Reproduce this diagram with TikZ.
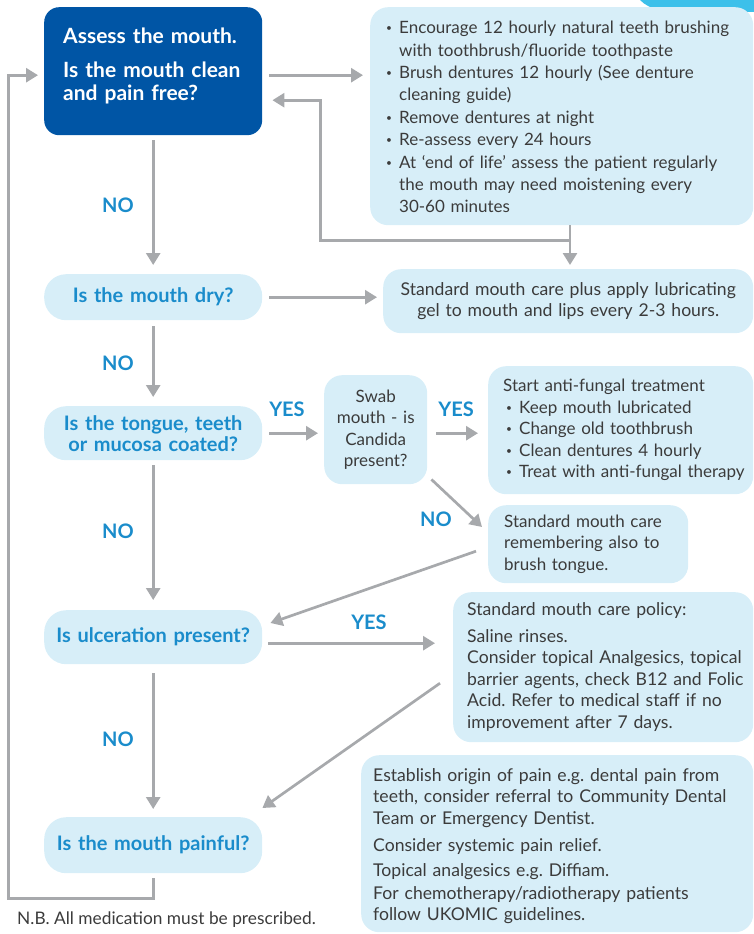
\documentclass[tikz,border=0pt]{standalone}
\usepackage{fontspec}
\setmainfont{Lato}
\usetikzlibrary{arrows.meta,calc}
\definecolor{dblue}{HTML}{0055A5}
\definecolor{lblue}{HTML}{D7EEF8}
\definecolor{qblue}{HTML}{1A8CCB}
\definecolor{agray}{HTML}{A7A9AC}
\definecolor{tgray}{HTML}{3B3B3B}
\definecolor{cyanc}{HTML}{3CC0EA}
\frenchspacing
\newcommand{\bl}[1]{\par\hangindent=16pt\hangafter=1\noindent\makebox[16pt][l]{\hspace{3pt}\raisebox{.12em}{\scalebox{.6}{\textbullet}}}#1}
\begin{document}
\begin{tikzpicture}[x=1pt,y=-1pt,
  box/.style={fill=lblue, rounded corners=18pt, inner ysep=0pt, anchor=north west},
  info/.style={box, text=tgray, font=\fontsize{17}{21.5}\selectfont, align=left},
  wide/.style={font=\fontsize{17.6}{21.5}\selectfont},
  ques/.style={box, rounded corners=22pt, text=qblue, font=\bfseries\fontsize{20}{21}\selectfont, align=center, inner xsep=0pt, text width=218pt},
  lab/.style={text=qblue, font=\bfseries\fontsize{20}{21}\selectfont, inner sep=0pt},
  arr/.style={draw=agray, line width=2.7pt, -{Triangle[length=12pt,width=14pt]}},
  ]
\useasboundingbox (0,0) rectangle (754,934);
\fill[cyanc] (640,0) .. controls (650,10) and (662,12) .. (700,12) -- (754,12) -- (754,0) -- cycle;

% nodes
\node[box, fill=dblue, rounded corners=15pt, text=white, font=\bfseries\fontsize{21}{23}\selectfont, align=left, inner xsep=19pt, text width=180pt, minimum height=128pt] (assess) at (44,7)
  {\mbox{Assess the mouth.}\\[11pt]\mbox{Is the mouth clean}\\\mbox{and pain free?}\rule[-14pt]{0pt}{14pt}};
\node[info, inner xsep=13pt, text width=357pt, minimum height=218pt, font=\fontsize{17}{22.4}\selectfont] (care) at (370,7)
  {\bl{\mbox{Encourage 12 hourly natural teeth brushing}\newline\mbox{with toothbrush/fluoride toothpaste}}
   \bl{\mbox{Brush dentures 12 hourly (See denture}\newline cleaning guide)}
   \bl{Remove dentures at night}
   \bl{Re-assess every 24 hours}
   \bl{\mbox{At ‘end of life’ assess the patient regularly}\newline\mbox{the mouth may need moistening every}\newline 30-60 minutes\rule[-8pt]{0pt}{8pt}}\par};
\node[ques, minimum height=46pt] (dry) at (44,274) {Is the mouth dry?};
\node[info, wide, align=center, inner xsep=4pt, text width=362pt, minimum height=64pt] (drycare) at (383,269)
  {\mbox{Standard mouth care plus apply lubricating}\\gel to mouth and lips every 2-3 hours.};
\node[ques, minimum height=54pt] (coated) at (44,406) {Is the tongue, teeth\\or mucosa coated?};
\node[info, align=center, inner xsep=2pt, text width=99pt, minimum height=109pt] (swab) at (324,375)
  {Swab\\mouth - is\\Candida\\present?};
\node[info, inner xsep=15pt, text width=235pt, minimum height=128pt] (fungal) at (488,366)
  {\noindent\mbox{Start anti-fungal treatment}
   \bl{Keep mouth lubricated}
   \bl{Change old toothbrush}
   \bl{Clean dentures 4 hourly}
   \bl{\mbox{Treat with anti-fungal therapy}}\par};
\node[info, inner xsep=16pt, text width=168pt, minimum height=78pt] (tongue) at (488,505)
  {\mbox{Standard mouth care}\\\mbox{remembering also to}\\brush tongue.};
\node[ques, minimum height=54pt] (ulcer) at (44,610) {Is ulceration present?};
\node[info, wide, inner xsep=14pt, text width=272pt, minimum height=150pt] (policy) at (453,592)
  {\mbox{Standard mouth care policy:}\\[5pt]
   Saline rinses.\\
   \mbox{Consider topical Analgesics, topical}\\
   \mbox{barrier agents, check B12 and Folic}\\
   \mbox{Acid. Refer to medical staff if no}\\
   \mbox{improvement after 7 days.}};
\node[ques, minimum height=56pt] (painful) at (44,817) {Is the mouth painful?};
\node[info, wide, inner xsep=12pt, text width=368pt, minimum height=177pt] (pain) at (361,755)
  {\rule{0pt}{18pt}\mbox{Establish origin of pain e.g. dental pain from}\\
   \mbox{teeth, consider referral to Community Dental}\\
   Team or Emergency Dentist.\\[5.5pt]
   Consider systemic pain relief.\\[3.5pt]
   Topical analgesics e.g. Diffiam.\\[1.5pt]
   \mbox{For chemotherapy/radiotherapy patients}\\
   follow UKOMIC guidelines.};

% labels
\node[lab] (no1) at (118,205) {NO};
\node[lab] (no2) at (118,363) {NO};
\node[lab] (no3) at (118,531) {NO};
\node[lab] (no4) at (118,739) {NO};
\node[lab] (no5) at (436,519) {NO};
\node[lab] (yes1) at (287,409) {YES};
\node[lab] (yes2) at (456,409) {YES};
\node[lab] (yes3) at (369,622) {YES};
\node[anchor=west, text=tgray, font=\fontsize{17.3}{19}\selectfont, inner sep=0pt] (nb) at (17,920) {N.B. All medication must be prescribed.};

% connectors
\coordinate (a1s) at ([shift={(7,4)}]assess.east);
\draw[arr, shorten >=7pt] (a1s) -- (a1s -| care.west);
\coordinate (fbx) at ([shift={(200,0)}]care.south west);
\coordinate (fb) at ([shift={(200,15)}]care.south west);
\coordinate (fbin) at ([shift={(10,29)}]assess.east);
\draw[arr, shorten >=4pt] (fbx) -- (fbx |- drycare.north);
\draw[arr] (fb) -| ($(fbin)+(48,0)$) -- (fbin);
\draw[arr, shorten <=5pt, shorten >=9pt] (assess.south) -- (dry.north);
\draw[arr, shorten <=7pt, shorten >=6pt] (dry.east) -- (dry.east -| drycare.west);
\draw[arr, shorten <=6pt, shorten >=9pt] (dry.south) -- (coated.north);
\draw[arr, shorten <=7pt, shorten >=6pt] (coated.east) -- (coated.east -| swab.west);
\draw[arr, shorten <=9pt, shorten >=10pt] (swab.east |- coated.east) -- (fungal.west |- coated.east);
\draw[arr] ([shift={(4,-5)}]swab.south east) -- ([shift={(-6,22)}]tongue.north west);
\draw[arr] ([shift={(-12,7)}]tongue.west) -- ([shift={(8,13)}]ulcer.north east);
\draw[arr, shorten <=5pt, shorten >=10pt] (coated.south) -- (ulcer.north);
\coordinate (a11s) at ([shift={(6,6)}]ulcer.east);
\draw[arr, shorten >=18pt] (a11s) -- (a11s -| policy.west);
\draw[arr] ([shift={(-13,16)}]policy.west) -- ([shift={(0,-9)}]painful.north east);
\draw[arr, shorten <=9pt, shorten >=8pt] (ulcer.south) -- (painful.north);
\coordinate (lbl) at ([shift={(-145,25)}]painful.south);
\draw[arr] ([yshift=-5pt]painful.south) |- (lbl) |- ([shift={(-6,4)}]assess.west);
\end{tikzpicture}
\end{document}
